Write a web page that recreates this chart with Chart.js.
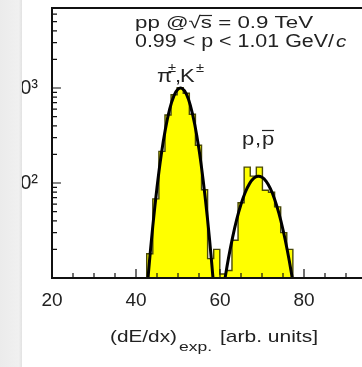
<!DOCTYPE html>
<html>
<head>
<meta charset="utf-8">
<script src="https://cdn.jsdelivr.net/npm/chart.js@4.4.1/dist/chart.umd.min.js"></script>
<style>
  html, body { margin: 0; padding: 0; background: #fff; overflow: hidden; }
  #wrap { position: relative; width: 362px; height: 367px; overflow: hidden; }
  #chart { position: absolute; left: -8px; top: 0; }
  #edge { position: absolute; left: 0; top: 0; width: 22px; height: 367px;
          background: linear-gradient(to right, #ebebeb, #f0f0f0 85%, #e2e2e2); }
</style>
</head>
<body>
<div id="wrap">
  <canvas id="chart" width="400" height="367"></canvas>
  <div id="edge"></div>
</div>
<script>
// histogram: low edge of each bin and its count (1 = empty, below the axis)
const binEdges = [41.10, 42.55, 44.00, 45.45, 46.90, 48.35, 49.80, 51.25, 52.70, 54.15,
                  55.60, 57.05, 58.50, 59.95, 61.40, 62.85, 64.30, 65.75, 67.20, 68.65,
                  70.10, 71.55, 73.00, 74.45, 75.90, 77.35, 78.80];
const binCounts = [1, 18, 68, 215, 520, 850, 1010, 880, 530, 250,
                   85, 16, 20, 11, 12, 25, 62, 147, 118, 147,
                   84, 80, 56, 30, 20, 1, 1];

// fit curves
const pionFitX = [42, 43, 44, 45, 46, 47, 48, 49, 50, 51, 52, 53, 54, 55, 56, 57, 58, 59];
const pionFitY = [3.4, 11.8, 35.1, 89.7, 197, 369, 595, 821, 973, 988, 860, 642, 411, 226, 106, 42.9, 14.8, 4.4];
const protonFitX = [61, 62, 63, 64, 65, 66, 67, 68, 69, 70, 71, 72, 73, 74, 75, 76, 77, 78];
const protonFitY = [8.8, 16.0, 26.8, 41.6, 59.7, 79.5, 97.9, 111.6, 117.8, 115.1, 104.1, 87.2, 67.6, 48.5, 32.2, 19.8, 11.3, 5.9];

const xTickLabels = [20, 40, 60, 80];
const yTickValues = [100, 1000];
const yTickLabels = ['10²', '10³'];

const OX = 8; // canvas is shifted 8px left of the page
const FONT = '"Liberation Sans", Arial, sans-serif';
const WIDE = 1.22; // the original lettering is a bit wider than Arial

const pts = (xs, ys) => xs.map((x, i) => ({ x: x, y: ys[i] }));

// draw text squeezed/stretched horizontally to a given width
function stretched(ctx, text, x, y, width) {
  const w = ctx.measureText(text).width;
  const k = width ? width / w : WIDE;
  ctx.save();
  ctx.translate(x, y);
  ctx.scale(k, 1);
  ctx.fillText(text, 0, 0);
  ctx.restore();
  return k;
}

const frame = {
  id: 'frame',
  afterDatasetsDraw(chart) {
    const { ctx, chartArea: a, scales: { x, y } } = chart;
    ctx.save();
    ctx.strokeStyle = '#111';
    ctx.lineWidth = 1.2;
    ctx.beginPath();
    for (let v = 20; v <= 100; v += 5) {
      const px = x.getPixelForValue(v);
      const len = v % 20 === 0 ? 9 : 5;
      ctx.moveTo(px, a.bottom);
      ctx.lineTo(px, a.bottom - len);
    }
    for (let d = 10; d < 10000; d *= 10) {
      for (let m = 1; m < 10; m++) {
        const v = d * m;
        if (v < y.min || v > y.max) continue;
        const py = y.getPixelForValue(v);
        const len = m === 1 ? 9 : 5;
        ctx.moveTo(a.left, py);
        ctx.lineTo(a.left + len, py);
      }
    }
    ctx.stroke();
    ctx.lineWidth = 2;
    ctx.strokeRect(a.left, a.top, a.right - a.left, a.bottom - a.top);

    // labels inside the frame
    ctx.fillStyle = '#222';
    ctx.strokeStyle = '#222';
    ctx.lineWidth = 1.2;
    ctx.textBaseline = 'alphabetic';
    ctx.textAlign = 'left';

    ctx.font = '17px ' + FONT;
    const l1 = 'pp @√s = 0.9 TeV';
    const k1 = stretched(ctx, l1, 135 + OX, 28, 178);
    const xs = 135 + OX + k1 * ctx.measureText('pp @√').width;
    const xe = 135 + OX + k1 * ctx.measureText('pp @√s').width;
    ctx.beginPath();
    ctx.moveTo(xs - 1, 15.5);
    ctx.lineTo(xe, 15.5);
    ctx.stroke();

    ctx.font = '18px ' + FONT;
    stretched(ctx, '0.99 < p < 1.01 GeV/', 135 + OX, 47, 199);
    ctx.font = 'italic 17px ' + FONT;
    stretched(ctx, 'c', 336 + OX, 47);

    ctx.font = '18px ' + FONT;
    stretched(ctx, 'π', 157 + OX, 82);
    stretched(ctx, ',', 175 + OX, 82);
    stretched(ctx, 'K', 180 + OX, 82);
    ctx.font = '12px ' + FONT;
    stretched(ctx, '±', 168 + OX, 72);
    stretched(ctx, '±', 196 + OX, 72);

    ctx.font = '18px ' + FONT;
    stretched(ctx, 'p', 242 + OX, 145);
    stretched(ctx, ',', 255 + OX, 145);
    stretched(ctx, 'p', 262 + OX, 145);
    ctx.beginPath();
    ctx.moveTo(262 + OX, 130.5);
    ctx.lineTo(274 + OX, 130.5);
    ctx.stroke();

    // axis title
    ctx.font = '17px ' + FONT;
    stretched(ctx, '(dE/dx)', 110 + OX, 342, 67);
    ctx.font = '13px ' + FONT;
    stretched(ctx, 'exp.', 179 + OX, 351, 33);
    ctx.font = '17px ' + FONT;
    stretched(ctx, '[arb. units]', 220 + OX, 342, 98);
    ctx.restore();
  }
};

const ctx = document.getElementById('chart').getContext('2d');

new Chart(ctx, {
  type: 'line',
  data: {
    datasets: [
      {
        data: pts(pionFitX, pionFitY),
        borderColor: '#000',
        borderWidth: 3,
        tension: 0.4,
        pointRadius: 0,
        fill: false,
        order: 0
      },
      {
        data: pts(protonFitX, protonFitY),
        borderColor: '#000',
        borderWidth: 3,
        tension: 0.4,
        pointRadius: 0,
        fill: false,
        order: 0
      },
      {
        data: pts(binEdges, binCounts),
        stepped: true,
        borderColor: '#4a4a08',
        borderWidth: 1.4,
        backgroundColor: '#ffff00',
        fill: 'start',
        pointRadius: 0,
        order: 1
      }
    ]
  },
  options: {
    responsive: false,
    animation: false,
    layout: { padding: { top: 8, right: 4, bottom: 0, left: 0 } },
    plugins: {
      legend: { display: false },
      tooltip: { enabled: false }
    },
    scales: {
      x: {
        type: 'linear',
        min: 20,
        max: 100,
        grid: { display: false, drawTicks: false },
        border: { display: false },
        ticks: {
          stepSize: 20,
          padding: 11,
          color: '#222',
          font: { family: FONT, size: 19 },
          maxRotation: 0,
          callback: (v) => xTickLabels.includes(v) ? String(v) : null
        },
        afterFit: (s) => { s.height = 89; s.paddingLeft = 0; s.paddingRight = 0; }
      },
      y: {
        type: 'logarithmic',
        min: 10,
        max: 6950,
        grid: { display: false, drawTicks: false },
        border: { display: false },
        ticks: {
          padding: 14,
          autoSkip: false,
          color: '#222',
          font: { family: FONT, size: 20 },
          callback: (v) => {
            const i = yTickValues.findIndex((t) => Math.abs(t - v) < 1e-6);
            return i >= 0 ? yTickLabels[i] : null;
          }
        },
        afterFit: (s) => { s.width = 60; s.paddingTop = 0; s.paddingBottom = 0; }
      }
    }
  },
  plugins: [frame]
});
</script>
</body>
</html>
